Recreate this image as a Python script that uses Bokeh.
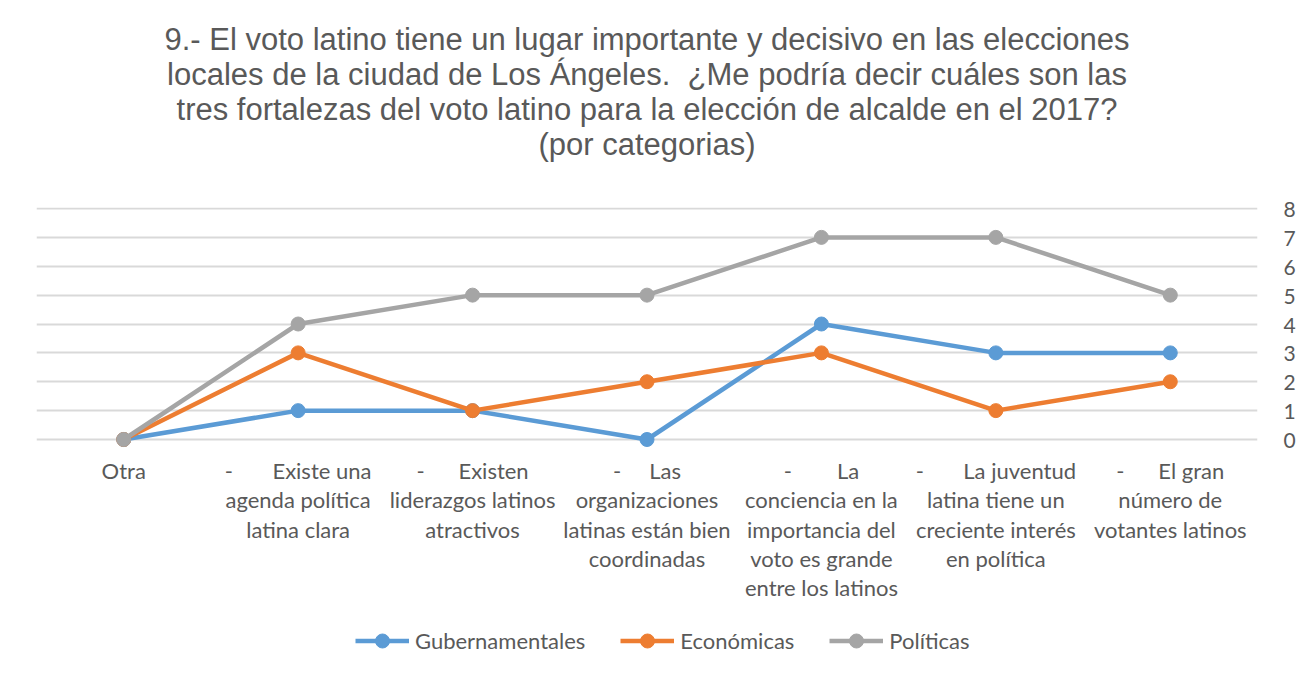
from bokeh.plotting import figure
from bokeh.models import (Range1d, FixedTicker, LinearAxis, Legend, LegendItem, Title,
                          ColumnDataSource)
from bokeh.core.properties import value
from bokeh.embed import file_html
from bokeh.resources import INLINE

# ---- data ----
categories = [
    "Otra",
    "-\tExiste una agenda política latina clara",
    "-\tExisten liderazgos latinos atractivos",
    "-\tLas organizaciones latinas están bien coordinadas",
    "-\tLa conciencia en la importancia del voto es grande entre los latinos",
    "-\tLa juventud latina tiene un creciente interés en política",
    "-\tEl gran número de votantes latinos",
]
NB = "\u00a0"
tick_labels = [
    "Otra",
    "-" + NB * 7 + "Existe una\nagenda política\nlatina clara",
    "-" + NB * 6 + "Existen\nliderazgos latinos\natractivos",
    "-" + NB * 5 + "Las\norganizaciones\nlatinas están bien\ncoordinadas",
    "-" + NB * 8 + "La\nconciencia en la\nimportancia del\nvoto es grande\nentre los latinos",
    "-" + NB * 7 + "La juventud\nlatina tiene un\ncreciente interés\nen política",
    "-" + NB * 6 + "El gran\nnúmero de\nvotantes latinos",
]
gubernamentales = [0, 1, 1, 0, 4, 3, 3]
economicas = [0, 3, 1, 2, 3, 1, 2]
politicas = [0, 4, 5, 5, 7, 7, 5]
series_names = ["Gubernamentales", "Económicas", "Políticas"]
series_values = [gubernamentales, economicas, politicas]
series_colors = ["#5B9BD5", "#ED7D31", "#A5A5A5"]
y_ticks = [0, 1, 2, 3, 4, 5, 6, 7, 8]
title_lines = [
    "9.- El voto latino tiene un lugar importante y decisivo en las elecciones",
    "locales de la ciudad de Los Ángeles." + NB + NB + "¿Me podría decir cuáles son las",
    "tres fortalezas del voto latino para la elección de alcalde en el 2017?",
    "(por categorias)",
]

W, H = 1309, 675
TOP = 207
PX_PER_UNIT = 231 / 8
y_end = 8 + 1 / PX_PER_UNIT
y_start = -(H - 439) / PX_PER_UNIT

p = figure(width=W, height=H, output_backend="svg", toolbar_location=None,
           x_range=Range1d(-0.5, len(categories) - 0.5),
           y_range=Range1d(y_start, y_end),
           min_border_left=36, min_border_right=0, min_border_top=TOP,
           min_border_bottom=0, y_axis_location=None, x_axis_location=None)
p.outline_line_color = None
p.background_fill_color = "white"
p.border_fill_color = "white"

xs = list(range(len(categories)))

# y axis (right); trailing no-break spaces reserve the right margin
ya = LinearAxis(ticker=FixedTicker(ticks=y_ticks),
                major_label_overrides={t: str(t) + NB * 2 for t in y_ticks})
ya.axis_line_color = None
ya.major_tick_line_color = None
ya.minor_tick_line_color = None
ya.major_tick_out = 0
ya.major_tick_in = 0
ya.major_label_text_font = "Lato"
ya.major_label_text_font_size = "21px"
ya.major_label_text_color = "#595959"
ya.major_label_text_align = "left"
ya.major_label_standoff = 26
p.add_layout(ya, "right")

p.xgrid.visible = False
p.ygrid.ticker = FixedTicker(ticks=y_ticks)
p.ygrid.grid_line_color = "#D9D9D9"
p.ygrid.grid_line_width = 2

# category labels under the zero line (one text row per wrapped line)
lx, ly, lt, lo = [], [], [], []
for i, lab in zip(xs, tick_labels):
    for k, part in enumerate(lab.split("\n")):
        lx.append(i)
        ly.append(0)
        lt.append(part)
        lo.append(31 + 29.3 * k)
lsrc = ColumnDataSource(dict(x=lx, y=ly, text=lt, yoff=lo))
p.text(x="x", y="y", text="text", y_offset="yoff", source=lsrc,
       text_align="center", text_baseline="middle",
       text_font=value("Lato"), text_font_size="22px", text_color="#595959")

items = []
for name, vals, col in zip(series_names, series_values, series_colors):
    r1 = p.line(xs, vals, line_color=col, line_width=4.5)
    r2 = p.scatter(xs, vals, size=14, fill_color=col, line_color=col)
    items.append(LegendItem(label=name, renderers=[r1, r2]))

legend = Legend(items=items, orientation="horizontal", location=(319, 17),
                glyph_width=54, glyph_height=35, label_standoff=6, spacing=35,
                padding=0, margin=0, border_line_color=None,
                background_fill_alpha=0,
                label_text_font="Lato", label_text_font_size="22px",
                label_text_color="#595959", label_height=35)
p.add_layout(legend, "center")

# spacer between the plot area and the title block
p.add_layout(Title(text=NB, text_font_size="2px", standoff=43), "above")
# title lines: added bottom-up (each new one is stacked farther from the plot)
for line in reversed(title_lines):
    p.add_layout(Title(text=line, align="center", text_font="Liberation Sans",
                       text_font_size="31px", text_color="#595959",
                       text_font_style="normal", standoff=-2), "above")

open("out.html", "w").write(file_html(p, INLINE))
